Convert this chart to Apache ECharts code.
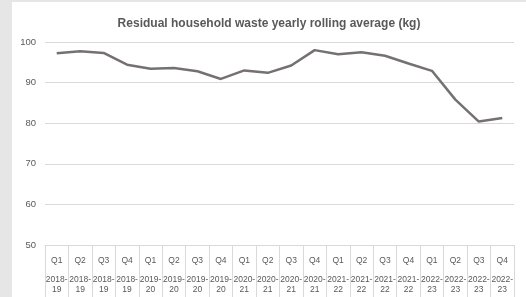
<!DOCTYPE html>
<html>
<head>
<meta charset="utf-8">
<script src="https://cdn.jsdelivr.net/npm/echarts@6/dist/echarts.min.js"></script>
<style>
  html, body { margin: 0; padding: 0; background: #e6e6e6; }
  #chart { position: absolute; left: 12px; top: 2px; width: 514px; height: 295px; background: #fff; }
</style>
</head>
<body>
<div id="chart"></div>
<script>
// data
const quarters = ['Q1', 'Q2', 'Q3', 'Q4', 'Q1', 'Q2', 'Q3', 'Q4', 'Q1', 'Q2', 'Q3', 'Q4', 'Q1', 'Q2', 'Q3', 'Q4', 'Q1', 'Q2', 'Q3', 'Q4']
const years = ['2018-19', '2018-19', '2018-19', '2018-19', '2019-20', '2019-20', '2019-20', '2019-20',
  '2020-21', '2020-21', '2020-21', '2020-21', '2021-22', '2021-22', '2021-22', '2021-22',
  '2022-23', '2022-23', '2022-23', '2022-23']
const wasteKg = [97.2, 97.7, 97.3, 94.4, 93.4, 93.6, 92.8, 90.9, 93.0, 92.4, 94.2, 98.0, 97.0, 97.5, 96.6, 94.7, 92.9, 85.8, 80.4, 81.3]
const yTicks = { min: 50, max: 100, step: 10 }

const categories = quarters.map((q, i) => q + '|' + years[i])

const chart = echarts.init(document.getElementById('chart'))
chart.setOption({
  animation: false,
  title: {
    text: 'Residual household waste yearly rolling average (kg)',
    left: 'center',
    top: 11,
    textStyle: { fontFamily: 'Liberation Sans', fontSize: 12, fontWeight: 'bold', color: '#595959' }
  },
  grid: { left: 33, right: 12, top: 40, bottom: 52 },
  xAxis: {
    type: 'category',
    data: categories,
    boundaryGap: true,
    axisLine: { lineStyle: { color: '#d9d9d9', width: 1 } },
    axisTick: { show: true, interval: 0, length: 60, lineStyle: { color: '#d9d9d9' } },
    axisLabel: {
      interval: 0,
      margin: 3,
      formatter: function (v) {
        const parts = v.split('|')
        const y = parts[1].split('-')
        return '{q|' + parts[0] + '}\n{y|' + y[0] + '-}\n{y|' + y[1] + '}'
      },
      rich: {
        q: { fontFamily: 'Liberation Sans', fontSize: 8.5, color: '#595959', lineHeight: 26 },
        y: { fontFamily: 'Liberation Sans', fontSize: 8.5, color: '#595959', lineHeight: 10.5 }
      }
    }
  },
  yAxis: {
    type: 'value',
    min: yTicks.min,
    max: yTicks.max,
    interval: yTicks.step,
    axisLine: { show: false },
    axisTick: { show: false },
    splitLine: { lineStyle: { color: '#d9d9d9', width: 1 } },
    axisLabel: { fontFamily: 'Liberation Sans', fontSize: 9.5, color: '#595959', margin: 9 }
  },
  series: [{
    type: 'line',
    data: wasteKg,
    showSymbol: false,
    lineStyle: { color: '#767171', width: 2.5 }
  }]
})
</script>
</body>
</html>
